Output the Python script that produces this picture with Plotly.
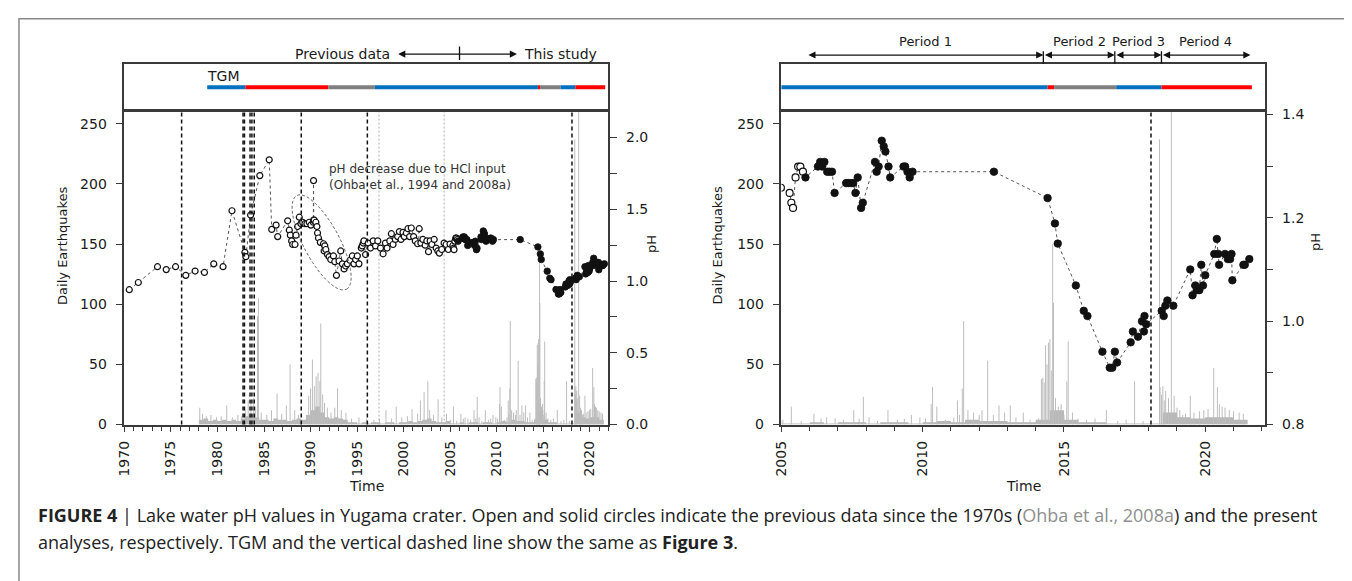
import numpy as np
import plotly.graph_objects as go

W, H = 1352, 581
FONT = "DejaVu Sans"
CAP_FONT = "Open Sans"
AXC = "#3a3a3a"
TXT = "#1a1a1a"

# ---------------- data ----------------
# lake water pH, previous data (open circles)
prev_t = [1970.53, 1971.50, 1973.56, 1974.50, 1975.50, 1976.60, 1977.60, 1978.60, 1979.60, 1980.60,
          1981.56, 1982.95, 1983.05, 1983.56, 1984.55, 1985.56, 1985.83, 1986.30, 1986.47, 1987.54,
          1987.72, 1987.83, 1987.97, 1988.08, 1988.33, 1988.44, 1988.61, 1988.79, 1988.97, 1989.15,
          1989.40, 1989.61, 1989.86, 1990.04, 1990.30, 1990.32, 1990.34, 1990.39, 1990.57, 1990.68,
          1990.75, 1990.85, 1991.05, 1991.39, 1991.46, 1991.53, 1991.64, 1991.82, 1992.00, 1992.17,
          1992.46, 1992.60, 1992.78, 1993.06, 1993.24, 1993.42, 1993.60, 1993.77, 1993.95, 1994.24,
          1994.49, 1994.66, 1994.84, 1995.02, 1995.20, 1995.45, 1995.55, 1995.66, 1995.73, 1995.91,
          1996.19, 1996.44, 1996.73, 1996.98, 1997.22, 1997.51, 1997.79, 1998.04, 1998.22, 1998.51,
          1998.68, 1998.86, 1999.11, 1999.36, 1999.54, 1999.72, 1999.93, 2000.07, 2000.29, 2000.46,
          2000.64, 2000.82, 2001.07, 2001.25, 2001.50, 2001.67, 2001.85, 2002.07, 2002.31, 2002.49,
          2002.67, 2002.85, 2003.03, 2003.28, 2003.49, 2003.67, 2003.84, 2004.09, 2004.34, 2004.56,
          2004.80, 2004.98, 2005.29, 2005.35, 2005.41, 2005.50, 2005.59, 2005.67, 2005.76]
prev_ph = [0.94, 0.99, 1.10, 1.08, 1.10, 1.04, 1.07, 1.06, 1.12, 1.10,
           1.49, 1.20, 1.17, 1.46, 1.735, 1.845, 1.36, 1.39, 1.31, 1.42,
           1.355, 1.32, 1.28, 1.255, 1.255, 1.32, 1.38, 1.445, 1.40, 1.41,
           1.40, 1.40, 1.41, 1.39, 1.41, 1.70, 1.425, 1.425, 1.41, 1.38,
           1.335, 1.30, 1.27, 1.26, 1.21, 1.245, 1.22, 1.185, 1.17, 1.15,
           1.175, 1.135, 1.04, 1.14, 1.21, 1.12, 1.085, 1.105, 1.12, 1.145,
           1.175, 1.12, 1.15, 1.175, 1.12, 1.23, 1.245, 1.265, 1.28, 1.185,
           1.265, 1.23, 1.28, 1.245, 1.28, 1.23, 1.19, 1.265, 1.23, 1.28,
           1.33, 1.255, 1.29, 1.31, 1.345, 1.29, 1.34, 1.31, 1.335, 1.365,
           1.31, 1.37, 1.31, 1.28, 1.26, 1.365, 1.265, 1.29, 1.25, 1.28,
           1.205, 1.28, 1.255, 1.29, 1.23, 1.21, 1.195, 1.22, 1.265, 1.255,
           1.22, 1.258, 1.248, 1.229, 1.219, 1.278, 1.299, 1.299, 1.289]

# lake water pH, this study (solid circles)
new_t = [2005.85, 2006.29, 2006.37, 2006.44, 2006.52, 2006.62, 2006.70, 2006.79, 2006.88, 2007.29,
         2007.37, 2007.46, 2007.54, 2007.62, 2007.70, 2007.82, 2007.88, 2008.31, 2008.37, 2008.44,
         2008.55, 2008.62, 2008.68, 2008.79, 2008.85, 2009.32, 2009.38, 2009.46, 2009.54, 2009.64,
         2012.52, 2014.42, 2014.68, 2014.78, 2015.42, 2015.70, 2015.83, 2016.36, 2016.62, 2016.71,
         2016.80, 2016.88, 2017.36, 2017.44, 2017.62, 2017.76, 2017.83, 2017.85, 2017.91, 2018.46,
         2018.53, 2018.59, 2018.66, 2018.87, 2019.47, 2019.55, 2019.65, 2019.70, 2019.79, 2019.86,
         2019.92, 2020.00, 2020.32, 2020.41, 2020.46, 2020.49, 2020.70, 2020.80, 2020.88, 2020.93,
         2020.96, 2021.35, 2021.40, 2021.56]
new_ph = [1.278, 1.299, 1.308, 1.299, 1.308, 1.289, 1.289, 1.289, 1.248, 1.267,
          1.267, 1.267, 1.267, 1.248, 1.278, 1.219, 1.229, 1.308, 1.289, 1.299,
          1.349, 1.338, 1.328, 1.299, 1.278, 1.299, 1.299, 1.289, 1.278, 1.289,
          1.289, 1.238, 1.189, 1.150, 1.069, 1.020, 1.010, 0.941, 0.910, 0.910,
          0.941, 0.920, 0.959, 0.980, 0.970, 1.000, 0.980, 1.010, 0.994, 1.020,
          1.010, 1.030, 1.040, 1.030, 1.100, 1.050, 1.069, 1.060, 1.060, 1.109,
          1.069, 1.089, 1.130, 1.159, 1.130, 1.109, 1.130, 1.120, 1.120, 1.130,
          1.079, 1.109, 1.109, 1.120]

# daily earthquakes: background level (half-year steps) and individual peaks
base_t = [1978.0, 1978.5, 1979.0, 1979.5, 1980.0, 1980.5, 1981.0, 1981.5, 1982.0, 1982.5,
          1983.0, 1983.5, 1984.0, 1984.5, 1985.0, 1985.5, 1986.0, 1986.5, 1987.0, 1987.5,
          1988.0, 1988.5, 1989.0, 1989.5, 1990.0, 1990.5, 1991.0, 1991.5, 1992.0, 1992.5,
          1993.0, 1993.5, 1994.0, 1994.5, 1995.0, 1995.5, 1996.0, 1996.5, 1997.0, 1997.5,
          1998.0, 1998.5, 1999.0, 1999.5, 2000.0, 2000.5, 2001.0, 2001.5, 2002.0, 2002.5,
          2003.0, 2003.5, 2004.0, 2004.5, 2005.0, 2005.5, 2006.0, 2006.5, 2007.0, 2007.5,
          2008.0, 2008.5, 2009.0, 2009.5, 2010.0, 2010.5, 2011.0, 2011.5, 2012.0, 2012.5,
          2013.0, 2013.5, 2014.0, 2014.5, 2015.0, 2015.5, 2016.0, 2016.5, 2017.0, 2017.5,
          2018.0, 2018.5, 2019.0, 2019.5, 2020.0, 2020.5, 2021.0, 2021.5]
base_n = [4, 5, 3, 4, 3, 4, 3, 4, 3, 5,
          7, 8, 6, 4, 4, 3, 5, 4, 4, 3,
          4, 5, 4, 8, 12, 15, 10, 6, 5, 6,
          5, 4, 2, 2, 1, 2, 1, 2, 2, 1,
          2, 2, 1, 2, 2, 3, 2, 3, 4, 5,
          3, 2, 2, 3, 1, 1, 2, 1, 2, 2,
          1, 2, 2, 1, 2, 3, 2, 4, 3, 3,
          2, 2, 4, 12, 4, 2, 2, 1, 1, 1,
          1, 10, 6, 5, 6, 6, 4, 0]

spike_t = [1978.1, 1978.4, 1978.8, 1979.3, 1979.9, 1980.4, 1981.0, 1981.6, 1982.2, 1982.6,
           1983.0, 1983.3, 1983.6, 1983.9, 1984.1, 1984.3, 1984.4, 1984.7, 1985.3, 1985.8,
           1986.4, 1986.9, 1987.4, 1987.8, 1988.3, 1988.7, 1989.8, 1990.0, 1990.2, 1990.4,
           1990.6, 1990.8, 1991.0, 1991.1, 1991.3, 1991.5, 1991.8, 1992.2, 1992.6, 1992.9,
           1993.3, 1993.8, 1994.4, 1995.2, 1996.0, 1996.8, 1997.4, 1998.1, 1998.7, 1999.2,
           1999.8, 2000.4, 2000.9, 2001.5, 2001.8, 2002.2, 2002.6, 2002.8, 2003.2, 2003.7,
           2004.1, 2004.6, 2005.05, 2005.35, 2005.7, 2006.15, 2006.4, 2006.6, 2006.9, 2007.2,
           2007.56, 2007.75, 2007.9, 2008.1, 2008.4, 2008.77, 2009.1, 2009.35, 2009.6, 2009.9,
           2010.1, 2010.3, 2010.35, 2010.5, 2010.8, 2011.1, 2011.23, 2011.3, 2011.4, 2011.45,
           2011.6, 2011.8, 2012.0, 2012.1, 2012.3, 2012.5, 2012.7, 2012.9, 2013.1, 2013.3,
           2013.56, 2013.8, 2014.1, 2014.2, 2014.25, 2014.3, 2014.35, 2014.4, 2014.45, 2014.5,
           2014.55, 2014.6, 2014.63, 2014.7, 2014.8, 2014.9, 2015.0, 2015.1, 2015.15, 2015.3,
           2015.5, 2015.8, 2016.1, 2016.5, 2016.9, 2017.2, 2017.5, 2017.8, 2018.38, 2018.4,
           2018.45, 2018.5, 2018.55, 2018.6, 2018.7, 2018.8, 2018.9, 2019.0, 2019.1, 2019.2,
           2019.3, 2019.47, 2019.6, 2019.8, 2019.95, 2020.1, 2020.3, 2020.43, 2020.5, 2020.6,
           2020.7, 2020.85, 2021.0, 2021.2, 2021.35]
spike_n = [14, 9, 7, 8, 6, 7, 16, 6, 8, 7,
           12, 20, 18, 22, 15, 90, 105, 10, 8, 12,
           26, 9, 16, 50, 12, 8, 24, 30, 54, 32,
           40, 43, 36, 84, 25, 18, 14, 10, 14, 30,
           12, 10, 5, 6, 5, 4, 5, 12, 5, 15,
           6, 7, 13, 9, 20, 27, 36, 12, 8, 21,
           6, 9, 4, 15, 3, 9, 5, 6, 5, 4,
           12, 5, 23, 6, 3, 12, 4, 5, 8, 6,
           5, 17, 31, 15, 4, 6, 20, 8, 30, 86,
           12, 10, 8, 12, 53, 8, 16, 10, 16, 6,
           10, 4, 5, 38, 39, 35, 66, 50, 68, 71,
           45, 150, 101, 22, 15, 17, 8, 36, 69, 10,
           5, 4, 5, 12, 3, 4, 36, 3, 237, 31,
           25, 32, 20, 28, 22, 280, 24, 14, 12, 8,
           9, 24, 10, 11, 12, 13, 47, 31, 17, 15,
           14, 12, 11, 10, 9]

# vertical reference lines
dash_t = [1976.15, 1982.75, 1982.9, 1983.5, 1983.7, 1983.95, 1989.0, 1996.1, 2018.08]
dot_t = [1997.35, 2004.35]

# TGM state bar
tgm_start = [1978.9, 1983.0, 1991.9, 1996.9, 2014.42, 2014.65, 2016.85, 2018.45]
tgm_end = [1983.0, 1991.9, 1996.9, 2014.42, 2014.65, 2016.85, 2018.45, 2021.65]
tgm_color = ["#0070C0", "#FF0000", "#808080", "#0070C0", "#FF0000", "#808080", "#0070C0", "#FF0000"]

# periods (right panel) and previous / this study split (left panel)
period_edges = [2005.9, 2014.27, 2016.8, 2018.45, 2021.6]
period_names = ["Period 1", "Period 2", "Period 3", "Period 4"]
split_year = 2006.0
split_arrow = [1999.25, 2012.17]

# ---------------- layout helpers ----------------
def fx(p):
    return p / W


def fy(p):
    return 1 - p / H


MAIN_Y = [fy(421), fy(101)]
TGM_Y = [fy(98), fy(52)]
LEFT_X = [fx(109), fx(596)]
RIGHT_X = [fx(770), fx(1256)]
LRANGE = [1970, 2022]
RRANGE = [2005, 2022.1]

fig = go.Figure()


def add_panel(xa, ya, ya2, msize_open, msize_full):
    # background seismicity
    fig.add_trace(go.Scatter(x=base_t, y=base_n, mode="lines", line=dict(width=0, shape="hv", color="#b5b5b5"),
                             fill="tozeroy", fillcolor="#b8b8b8", xaxis=xa, yaxis=ya, hoverinfo="skip",
                             showlegend=False))
    sx, sy = [], []
    for t, n in zip(spike_t, spike_n):
        sx += [t, t, None]
        sy += [0, n, None]
    fig.add_trace(go.Scatter(x=sx, y=sy, mode="lines", line=dict(width=1, color="#bdbdbd"),
                             xaxis=xa, yaxis=ya, hoverinfo="skip", showlegend=False))
    # pH
    all_t = prev_t + new_t
    all_ph = prev_ph + new_ph
    fig.add_trace(go.Scatter(x=all_t, y=all_ph, mode="lines", line=dict(width=1, color="#555555", dash="dot"),
                             xaxis=xa, yaxis=ya2, hoverinfo="skip", showlegend=False))
    fig.add_trace(go.Scatter(x=prev_t, y=prev_ph, mode="markers",
                             marker=dict(size=msize_open, color="white", line=dict(color="#111111", width=1.2)),
                             xaxis=xa, yaxis=ya2, showlegend=False))
    fig.add_trace(go.Scatter(x=new_t, y=new_ph, mode="markers",
                             marker=dict(size=msize_full, color="#111111", line=dict(color="#111111", width=0.8)),
                             xaxis=xa, yaxis=ya2, showlegend=False))


add_panel("x", "y", "y2", 6, 6.5)
add_panel("x2", "y3", "y4", 7, 7.5)

# TGM bars
for xa, ya in (("x3", "y5"), ("x4", "y6")):
    for s, e, c in zip(tgm_start, tgm_end, tgm_color):
        fig.add_trace(go.Scatter(x=[s, e], y=[0.48, 0.48], mode="lines", line=dict(width=4, color=c),
                                 xaxis=xa, yaxis=ya, hoverinfo="skip", showlegend=False))

tickfont = dict(family=FONT, size=14, color=TXT)


def xaxis_def(domain, rng, anchor, tick0):
    return dict(domain=domain, range=rng, anchor=anchor, tickmode="linear", tick0=tick0, dtick=5,
                ticks="outside", ticklen=6, tickwidth=1.2, tickcolor=AXC, tickangle=-90,
                tickfont=tickfont, showline=True, linecolor=AXC, linewidth=1.5, mirror=True,
                showgrid=False, zeroline=False, ticklabelstandoff=3,
                minor=dict(dtick=1, ticks="outside", ticklen=5, tickwidth=1.2, tickcolor=AXC))


def yq_def(domain, anchor):
    return dict(domain=domain, range=[0, 260], anchor=anchor, tickmode="linear", tick0=0, dtick=50,
                ticks="outside", ticklen=7, tickwidth=1.2, tickcolor=AXC, tickfont=tickfont,
                showline=True, linecolor=AXC, linewidth=1.5, showgrid=False, zeroline=False,
                ticklabelstandoff=6)


def yph_def(overlay, anchor, rng, dt, mdt):
    return dict(overlaying=overlay, anchor=anchor, side="right", range=rng, tickmode="linear",
                tick0=0, dtick=dt, tickformat=".1f", ticks="outside", ticklen=7, tickwidth=1.2,
                tickcolor=AXC, tickfont=tickfont, showline=True, linecolor=AXC, linewidth=1.5,
                showgrid=False, zeroline=False, ticklabelstandoff=6,
                minor=dict(dtick=mdt, ticks="outside", ticklen=7, tickwidth=1.2, tickcolor=AXC))


def box_x(domain, rng, anchor):
    return dict(domain=domain, range=rng, anchor=anchor, showline=True, linecolor=AXC, linewidth=1.5,
                mirror=True, showticklabels=False, ticks="", showgrid=False, zeroline=False)


def box_y(anchor):
    return dict(domain=TGM_Y, range=[0, 1], anchor=anchor, showline=True, linecolor=AXC, linewidth=1.5,
                mirror=True, showticklabels=False, ticks="", showgrid=False, zeroline=False)


fig.update_layout(
    width=W, height=H, margin=dict(l=0, r=0, t=0, b=0),
    paper_bgcolor="white", plot_bgcolor="white", showlegend=False,
    font=dict(family=FONT, color=TXT),
    xaxis=xaxis_def(LEFT_X, LRANGE, "y", 1970),
    xaxis2=xaxis_def(RIGHT_X, RRANGE, "y3", 2005),
    xaxis3=box_x(LEFT_X, LRANGE, "y5"),
    xaxis4=box_x(RIGHT_X, RRANGE, "y6"),
    yaxis=yq_def(MAIN_Y, "x"),
    yaxis2=yph_def("y", "x", [0, 2.18], 0.5, 0.25),
    yaxis3=yq_def(MAIN_Y, "x2"),
    yaxis4=yph_def("y3", "x2", [0.8, 1.405], 0.2, 0.1),
    yaxis5=box_y("x3"),
    yaxis6=box_y("x4"),
)

shapes = []
for t in dash_t:
    shapes.append(dict(type="line", xref="x", yref="y domain", x0=t, x1=t, y0=0, y1=1,
                       line=dict(color="#111111", width=1.5, dash="4px,3px"), layer="above"))
    if t >= RRANGE[0]:
        shapes.append(dict(type="line", xref="x2", yref="y3 domain", x0=t, x1=t, y0=0, y1=1,
                           line=dict(color="#111111", width=1.5, dash="4px,3px"), layer="above"))
for t in dot_t:
    shapes.append(dict(type="line", xref="x", yref="y domain", x0=t, x1=t, y0=0, y1=1,
                       line=dict(color="#b0b0b0", width=1, dash="2px,2px"), layer="below"))

# ellipse around the HCl-induced pH decrease (pixel-sized, anchored in data space)
th = np.linspace(0, 2 * np.pi, 73)
a_px, b_px, ang = 53, 18, np.deg2rad(-62)
ex = a_px * np.cos(th) * np.cos(ang) - b_px * np.sin(th) * np.sin(ang)
ey = a_px * np.cos(th) * np.sin(ang) + b_px * np.sin(th) * np.cos(ang)
path = "M " + " L ".join(f"{u:.1f},{v:.1f}" for u, v in zip(ex, ey)) + " Z"
shapes.append(dict(type="path", path=path, xref="x", yref="y", xsizemode="pixel", ysizemode="pixel",
                   xanchor=1991.19, yanchor=151.4, line=dict(color="#666666", width=1, dash="3px,2px")))

# outer frame
shapes.append(dict(type="rect", xref="paper", yref="paper", x0=fx(3), x1=fx(1348), y0=-0.05, y1=fy(6),
                   line=dict(color="#888888", width=1.5), fillcolor="rgba(0,0,0,0)"))
fig.update_layout(shapes=shapes)

ann = []
C = dict(xanchor="center", yanchor="middle", showarrow=False)
# axis titles
for xp, yp in ((46.5, 238), (706, 238)):
    ann.append(dict(text="Daily Earthquakes", xref="paper", yref="paper", x=fx(xp), y=fy(yp),
                    textangle=-90, font=dict(size=13, color=TXT), **C))
for xp, yp in ((640, 236), (1307, 234)):
    ann.append(dict(text="pH", xref="paper", yref="paper", x=fx(xp), y=fy(yp),
                    textangle=-90, font=dict(size=13, color=TXT), **C))
for xp in (353, 1013):
    ann.append(dict(text="Time", xref="paper", yref="paper", x=fx(xp), y=fy(484),
                    font=dict(size=14, color=TXT), **C))

# TGM label
ann.append(dict(text="TGM", xref="x3", yref="y5", x=tgm_start[0], y=0.74, xanchor="left", yanchor="middle",
                showarrow=False, font=dict(size=14, color=TXT), xshift=-2))

ARW = dict(showarrow=True, arrowcolor="#111111", arrowwidth=1.3, standoff=0, startstandoff=0)

# previous data / this study
ann.append(dict(text="Previous data", xref="x3", yref="paper", x=split_arrow[0], y=fy(42), xanchor="right",
                yanchor="middle", xshift=-5, showarrow=False, font=dict(size=14, color=TXT)))
ann.append(dict(text="This study", xref="x3", yref="paper", x=split_arrow[1], y=fy(42), xanchor="left",
                yanchor="middle", xshift=5, showarrow=False, font=dict(size=14, color=TXT)))
ann.append(dict(text="", xref="x3", yref="paper", axref="x3", ayref="pixel", x=split_arrow[1], y=fy(42),
                ax=split_arrow[0], ay=0, arrowhead=2, arrowside="end+start", arrowsize=1.1, **ARW))
ann.append(dict(text="", xref="x3", yref="paper", axref="x3", ayref="pixel", x=split_year, y=fy(48),
                ax=split_year, ay=-15, arrowhead=0, **ARW))

# periods
for i, name in enumerate(period_names):
    s, e = period_edges[i], period_edges[i + 1]
    ann.append(dict(text="", xref="x4", yref="paper", axref="x4", ayref="pixel", x=e, y=fy(43), ax=s, ay=0,
                    arrowhead=2, arrowside="end+start", arrowsize=1.1, **ARW))
    ann.append(dict(text=name, xref="x4", yref="paper", x=(s + e) / 2, y=fy(29),
                    font=dict(size=13, color=TXT), **C))
for t in period_edges[1:-1]:
    ann.append(dict(text="", xref="x4", yref="paper", axref="x4", ayref="pixel", x=t, y=fy(52), ax=t, ay=-14,
                    arrowhead=0, **ARW))

# HCl note
ann.append(dict(text="pH decrease due to HCl input<br>(Ohba et al., 1994 and 2008a)", xref="x", yref="y",
                x=1991.78, y=220, xanchor="left", yanchor="top", align="left", showarrow=False,
                font=dict(size=12, color="#333333")))

# caption
cap1 = ("<b>FIGURE 4</b> | Lake water pH values in Yugama crater. Open and solid circles indicate the previous "
        "data since the 1970s (<span style='color:#8f8f8f'>Ohba et al., 2008a</span>) and the present")
cap2 = "analyses, respectively. TGM and the vertical dashed line show the same as <b>Figure 3</b>."
ann.append(dict(text=cap1, xref="paper", yref="paper", x=fx(20), y=fy(514), xanchor="left", yanchor="middle",
                showarrow=False, font=dict(family=CAP_FONT, size=18, color="#222222")))
ann.append(dict(text=cap2, xref="paper", yref="paper", x=fx(20), y=fy(541), xanchor="left", yanchor="middle",
                showarrow=False, font=dict(family=CAP_FONT, size=18, color="#222222")))

fig.update_layout(annotations=ann)
fig.write_html("out.html")
